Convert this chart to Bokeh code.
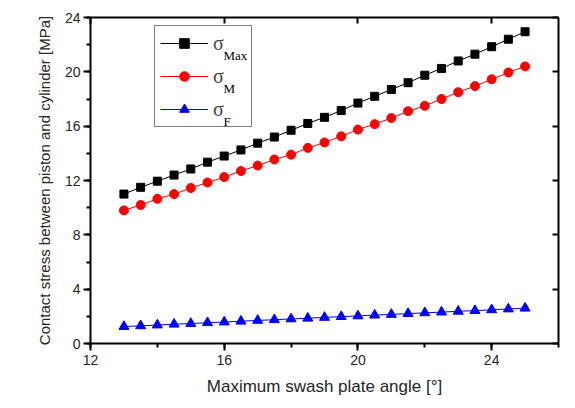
from bokeh.plotting import figure
from bokeh.models import (Range1d, LinearAxis, SingleIntervalTicker, Legend, LegendItem, Label,
                          CustomJSTickFormatter)
from bokeh.embed import file_html
from bokeh.resources import INLINE

# ---- data ----
angle = [13.0, 13.5, 14.0, 14.5, 15.0, 15.5, 16.0, 16.5, 17.0, 17.5, 18.0, 18.5, 19.0,
         19.5, 20.0, 20.5, 21.0, 21.5, 22.0, 22.5, 23.0, 23.5, 24.0, 24.5, 25.0]
sigma_max = [11.0, 11.5, 11.95, 12.4, 12.85, 13.35, 13.8, 14.25, 14.75, 15.2, 15.7, 16.2, 16.65,
             17.15, 17.7, 18.2, 18.7, 19.2, 19.75, 20.25, 20.8, 21.3, 21.85, 22.4, 22.95]
sigma_m = [9.8, 10.2, 10.65, 11.0, 11.45, 11.85, 12.25, 12.7, 13.1, 13.55, 13.9, 14.4, 14.8,
           15.25, 15.75, 16.15, 16.6, 17.1, 17.5, 18.0, 18.5, 18.95, 19.45, 19.95, 20.4]
sigma_f = [1.25, 1.30, 1.36, 1.42, 1.47, 1.53, 1.58, 1.64, 1.70, 1.75, 1.81, 1.86, 1.92,
           1.98, 2.03, 2.09, 2.14, 2.20, 2.26, 2.31, 2.37, 2.42, 2.48, 2.54, 2.60]
legend_subscripts = ["Max", "M", "F"]
x_label = "Maximum swash plate angle [°]"
y_label = "Contact stress between piston and cylinder [MPa]"

TXT = "#262626"
SANS = "Liberation Sans"
SERIF = "Liberation Serif"

p = figure(width=570, height=400, output_backend="svg", toolbar_location=None,
           x_range=Range1d(12, 26), y_range=Range1d(0, 24),
           min_border_left=90, min_border_right=12, min_border_top=17, min_border_bottom=57,
           x_axis_label=x_label, y_axis_label=y_label)
p.grid.visible = False
p.outline_line_color = None
p.background_fill_color = "white"
p.border_fill_color = "white"

for ax in (p.xaxis[0], p.yaxis[0]):
    ax.ticker = SingleIntervalTicker(interval=4, num_minor_ticks=2)
    ax.axis_line_width = 2
    ax.axis_line_color = "black"
    ax.major_tick_line_width = 2
    ax.minor_tick_line_width = 2
    ax.major_tick_out = 7
    ax.major_tick_in = 0
    ax.minor_tick_out = 4
    ax.minor_tick_in = 0
    ax.major_label_text_font = SANS
    ax.major_label_text_font_size = "14px"
    ax.major_label_text_color = TXT
    ax.axis_label_text_font = SANS
    ax.axis_label_text_font_style = "normal"
    ax.axis_label_text_color = TXT
p.xaxis[0].major_label_standoff = 4
p.xaxis[0].axis_label_standoff = 9
p.xaxis[0].axis_label_text_font_size = "17px"
p.yaxis[0].major_label_standoff = 3
p.yaxis[0].axis_label_standoff = 9
p.yaxis[0].axis_label_text_font_size = "15px"

# mirrored top / right axes with inward ticks only, no labels
blank = CustomJSTickFormatter(code="return ''")
top = LinearAxis(ticker=SingleIntervalTicker(interval=4, num_minor_ticks=2), formatter=blank)
right = LinearAxis(ticker=SingleIntervalTicker(interval=4, num_minor_ticks=2), formatter=blank)
for ax in (top, right):
    ax.axis_line_width = 2
    ax.axis_line_color = "black"
    ax.major_tick_line_width = 2
    ax.major_tick_in = 6
    ax.major_tick_out = 0
    ax.minor_tick_in = 0
    ax.minor_tick_out = 0
    ax.major_label_standoff = 0
p.add_layout(top, "above")
p.add_layout(right, "right")

# series
l1 = p.line(angle, sigma_max, line_color="black", line_width=1)
s1 = p.scatter(angle, sigma_max, marker="square", size=8, fill_color="black", line_color="black")
l2 = p.line(angle, sigma_m, line_color="red", line_width=1)
s2 = p.scatter(angle, sigma_m, marker="circle", size=9, fill_color="red", line_color="red")
l3 = p.line(angle, sigma_f, line_color="blue", line_width=1)
s3 = p.scatter(angle, sigma_f, marker="triangle", size=10, fill_color="blue", line_color="blue")

# legend (transparent background so the subscript labels show through)
pad, row_h, spacing, glyph_w, standoff = 5, 24, 9, 48, 5
leg_left, leg_bottom = 64, 216
legend = Legend(items=[LegendItem(label="σ", renderers=[l1, s1]),
                       LegendItem(label="σ", renderers=[l2, s2]),
                       LegendItem(label="σ", renderers=[l3, s3])],
                location=(leg_left, leg_bottom), margin=0, padding=pad, spacing=spacing,
                glyph_height=row_h, label_height=row_h, glyph_width=glyph_w,
                label_standoff=standoff, label_width=33,
                label_text_font=SERIF, label_text_font_size="20px",
                label_text_baseline="middle",
                border_line_color="black", border_line_width=1,
                background_fill_alpha=0)
p.add_layout(legend, "center")

leg_h = 2 * pad + 3 * row_h + 2 * spacing
leg_top = leg_bottom + leg_h
sub_x = leg_left + pad + glyph_w + standoff + 11
for i, sub in enumerate(legend_subscripts):
    cy = leg_top - pad - row_h / 2 - i * (row_h + spacing)
    p.add_layout(Label(x=sub_x, y=cy - 11, x_units="screen", y_units="screen", text=sub,
                       text_font=SERIF, text_font_size="13px", text_color="black",
                       text_baseline="middle"))

open("out.html", "w").write(file_html(p, INLINE))
